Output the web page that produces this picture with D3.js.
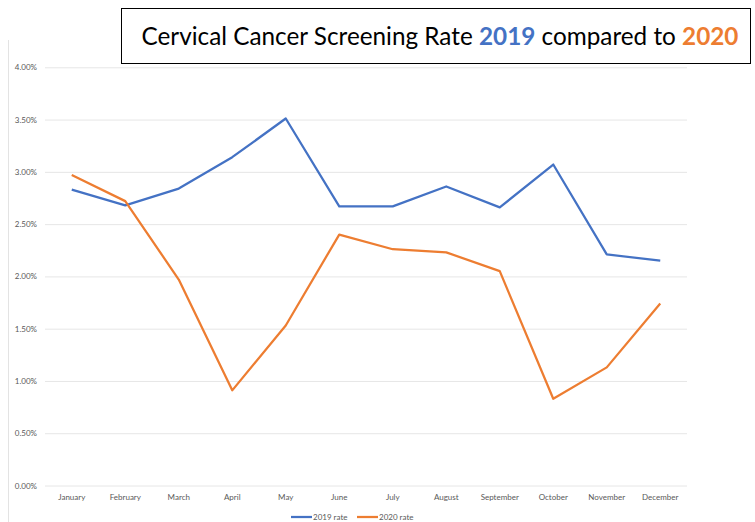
<!DOCTYPE html>
<html>
<head>
<meta charset="utf-8">
<script src="https://cdn.jsdelivr.net/npm/d3@7"></script>
<style>
  body { margin: 0; background: #fff; }
  .axis text { font-family: Lato, "Open Sans", sans-serif; font-size: 8px; fill: #595959; }
  .axis path, .axis line { stroke: none; }
  .grid line { stroke: #e6e6e6; stroke-width: 1; }
  .grid path { stroke: none; }
</style>
</head>
<body>
<script>
// months along the x axis
var months = ["January", "February", "March", "April", "May", "June",
  "July", "August", "September", "October", "November", "December"];

// screening rate in percent
var rate2019 = [2.83, 2.68, 2.84, 3.14, 3.51, 2.67, 2.67, 2.86, 2.66, 3.07, 2.21, 2.15];
var rate2020 = [2.97, 2.72, 1.97, 0.91, 1.53, 2.40, 2.26, 2.23, 2.05, 0.83, 1.13, 1.74];

// y tick values
var yTicks = [0, 0.5, 1, 1.5, 2, 2.5, 3, 3.5, 4];

var series = [
  { name: "2019 rate", values: rate2019, color: "#4472C4" },
  { name: "2020 rate", values: rate2020, color: "#ED7D31" }
];

var svg = d3.select("body")
  .append("svg")
  .attr("width", 755)
  .attr("height", 522);

// faint left border of the chart area
svg.append("line")
  .attr("x1", 8.5).attr("x2", 8.5)
  .attr("y1", 40).attr("y2", 522)
  .style("stroke", "#e3e3e3");

var x = d3.scaleBand()
  .domain(months)
  .range([45, 687]);

var y = d3.scaleLinear()
  .domain([0, 4])
  .range([485.5, 67.3]);

// gridlines
svg.append("g")
  .attr("class", "grid")
  .attr("transform", "translate(45,0)")
  .call(d3.axisRight(y).tickValues(yTicks).tickSize(642).tickFormat(""));

// y axis labels
svg.append("g")
  .attr("class", "axis")
  .attr("transform", "translate(45,0)")
  .call(d3.axisLeft(y)
    .tickValues(yTicks)
    .tickSize(0)
    .tickPadding(8)
    .tickFormat(function(d){ return d.toFixed(2) + "%"; }));

// x axis labels
svg.append("g")
  .attr("class", "axis")
  .attr("transform", "translate(0,485.5)")
  .call(d3.axisBottom(x).tickSize(0).tickPadding(9));

var line = d3.line()
  .x(function(d, i){ return x(months[i]) + x.bandwidth() / 2; })
  .y(function(d){ return y(d); });

svg.selectAll(".series")
  .data(series)
  .enter()
  .append("path")
  .attr("class", "series")
  .attr("d", function(d){ return line(d.values); })
  .style("fill", "none")
  .style("stroke", function(d){ return d.color; })
  .style("stroke-width", 2.25)
  .style("stroke-linejoin", "round");

// legend
var legend = svg.selectAll(".legend")
  .data(series)
  .enter()
  .append("g")
  .attr("class", "legend")
  .attr("transform", function(d, i){ return "translate(" + (291 + i * 66) + ",517)"; });

legend.append("line")
  .attr("x1", 0).attr("x2", 21)
  .attr("y1", 0).attr("y2", 0)
  .style("stroke", function(d){ return d.color; })
  .style("stroke-width", 2.25);

legend.append("text")
  .attr("x", 22)
  .attr("y", 3)
  .style("font-family", "Lato, 'Open Sans', sans-serif")
  .style("font-size", "8px")
  .style("fill", "#595959")
  .text(function(d){ return d.name; });

// title box
svg.append("rect")
  .attr("x", 121.5).attr("y", 8.5)
  .attr("width", 629).attr("height", 55)
  .style("fill", "#fff")
  .style("stroke", "#000")
  .style("stroke-width", 1);

var title = svg.append("text")
  .attr("x", 440)
  .attr("y", 45)
  .attr("text-anchor", "middle")
  .style("font-family", "Lato, 'Open Sans', sans-serif")
  .style("font-size", "24.3px")
  .style("fill", "#000");

title.append("tspan").text("Cervical Cancer Screening Rate ");
title.append("tspan").style("fill", "#4472C4").style("font-weight", "bold").text("2019");
title.append("tspan").text(" compared to ");
title.append("tspan").style("fill", "#ED7D31").style("font-weight", "bold").text("2020");
</script>
</body>
</html>
